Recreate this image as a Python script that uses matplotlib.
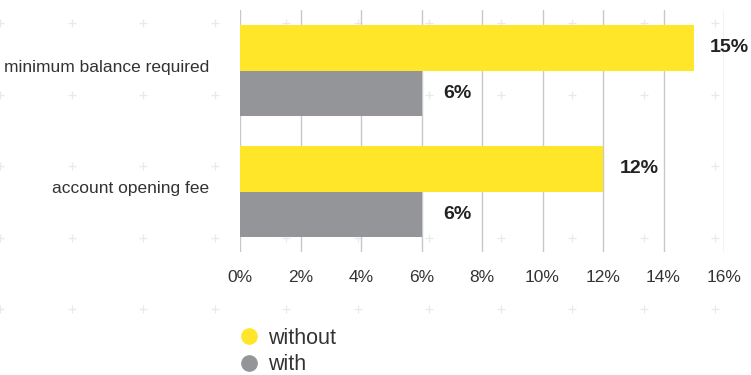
import numpy as np
import matplotlib
matplotlib.use("Agg")
import matplotlib.pyplot as plt
import matplotlib.transforms as mtransforms
from matplotlib.lines import Line2D

categories = ["minimum balance required", "account opening fee"]
without_fee = [15, 12]
with_fee = [6, 6]
series_names = ["without", "with"]
xticks = [0, 2, 4, 6, 8, 10, 12, 14, 16]

yellow = "#ffe629"
grey = "#939598"
text_col = "#333333"

plt.rcParams["font.family"] = ["Liberation Sans", "DejaVu Sans"]

W, H = 751, 375
fig = plt.figure(figsize=(W / 100, H / 100), dpi=100)

# faint "+" pattern in the background
bg = fig.add_axes([0, 0, 1, 1], zorder=-5)
bg.set_xlim(0, W)
bg.set_ylim(H, 0)
bg.axis("off")
px = np.arange(0, W + 10, 71.5)
py = np.arange(23, H + 10, 71.5)
gx, gy = np.meshgrid(px, py)
bg.scatter(gx.ravel(), gy.ravel(), marker="+", s=40, linewidths=0.9,
           color="#e4eaef")

ax = fig.add_axes([240 / W, 1 - 252 / H, 484 / W, 242 / H])
ax.set_facecolor("none")

y = np.arange(len(categories))
h = 0.376
ax.barh(y - h / 2, without_fee, height=h, color=yellow, zorder=2)
ax.barh(y + h / 2, with_fee, height=h, color=grey, zorder=2)

# value labels centred a fixed distance past the bar end
for yy, v in zip(y - h / 2, without_fee):
    ax.annotate(f"{v}%", (v, yy), xytext=(36 * 0.72, 0), textcoords="offset points",
                ha="center", va="center", fontsize=14, fontweight="bold", color="#222222")
for yy, v in zip(y + h / 2, with_fee):
    ax.annotate(f"{v}%", (v, yy), xytext=(36 * 0.72, 0), textcoords="offset points",
                ha="center", va="center", fontsize=14, fontweight="bold", color="#222222")

ax.set_xlim(0, 16)
ax.set_ylim(1.5, -0.5)
ax.set_xticks(xticks)
ax.set_xticklabels([f"{t}%" for t in xticks])
ax.set_yticks(y)
ax.set_yticklabels(categories, va="center_baseline")
ax.tick_params(axis="both", length=0, labelsize=12.5, labelcolor=text_col)
ax.tick_params(axis="x", pad=13)
ax.tick_params(axis="y", pad=22)
# category labels sit a little above the group centre
lift = mtransforms.ScaledTranslation(0, 4.5 / 100, fig.dpi_scale_trans)
for lbl in ax.get_yticklabels():
    lbl.set_transform(lbl.get_transform() + lift)
ax.grid(axis="x", color="#c8c8c8", linewidth=1, zorder=0)
ax.set_axisbelow(True)
for s in ax.spines.values():
    s.set_visible(False)

handles = [Line2D([], [], marker="o", linestyle="none", markersize=11, color=yellow),
           Line2D([], [], marker="o", linestyle="none", markersize=11, color=grey)]
leg = fig.legend(handles, series_names, loc="upper left", bbox_to_anchor=(231 / W, 1 - 319 / H),
                 frameon=False, fontsize=15.5, handletextpad=0.42, labelspacing=0.27,
                 handlelength=0.9, borderaxespad=0)
for t in leg.get_texts():
    t.set_color(text_col)

fig.savefig("out.png", dpi=100)
